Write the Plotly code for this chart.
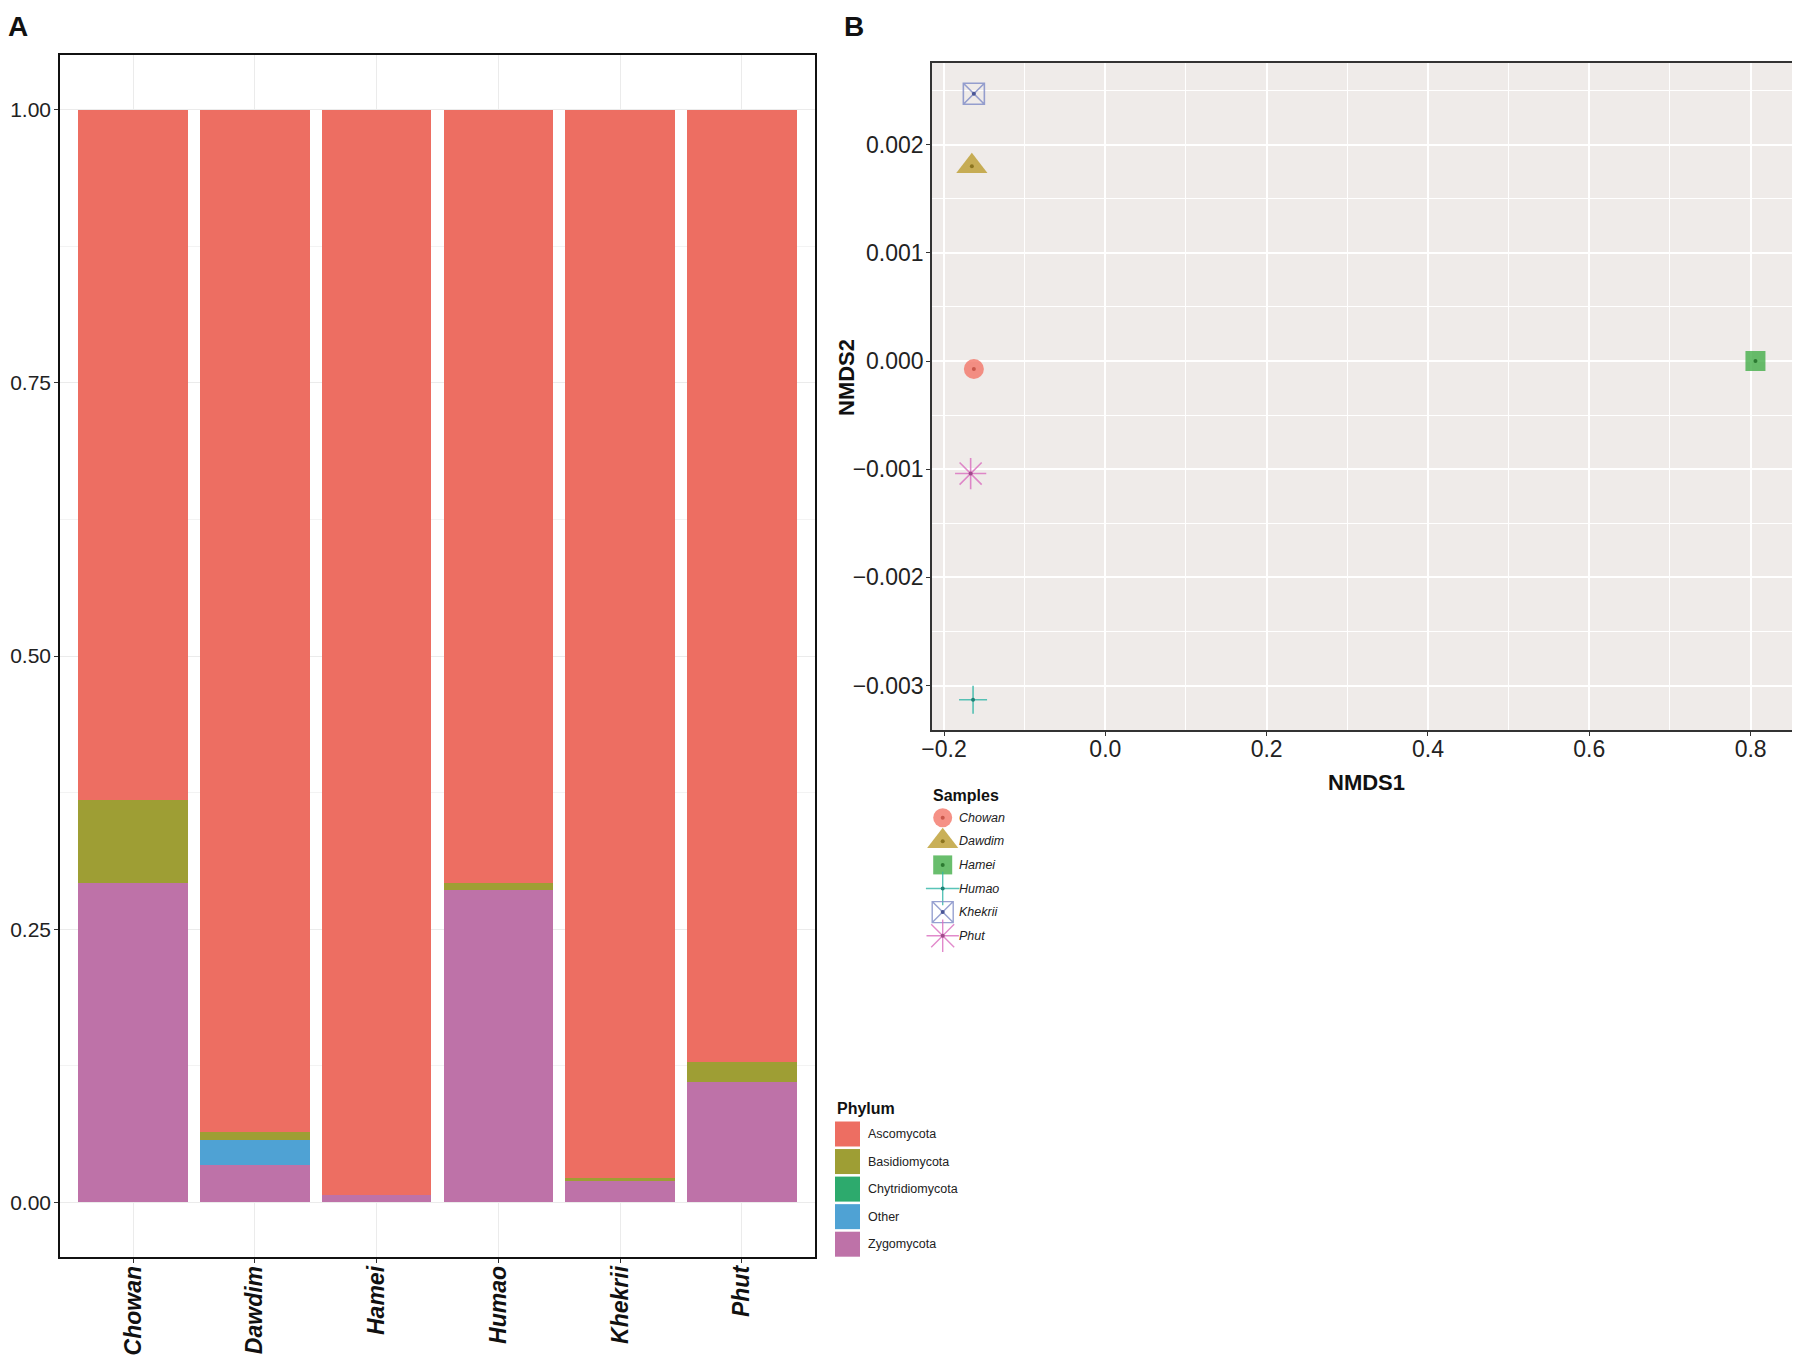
import plotly.graph_objects as go

W, H = 1800, 1362
OFF = 8  # the page body adds an 8px margin around the plot div
FW, FH = W - OFF, H - OFF

# --- panel A: relative abundance by phylum ---
samples = ["Chowan", "Dawdim", "Hamei", "Humao", "Khekrii", "Phut"]
phyla = ["Ascomycota", "Basidiomycota", "Chytridiomycota", "Other", "Zygomycota"]

ascomycota = [0.632, 0.936, 0.993, 0.708, 0.978, 0.872]
basidiomycota = [0.076, 0.007, 0.000, 0.006, 0.002, 0.018]
chytridiomycota = [0.0, 0.0, 0.0, 0.0, 0.0, 0.0]
other = [0.0, 0.023, 0.0, 0.0, 0.0, 0.0]
zygomycota = [0.292, 0.034, 0.007, 0.286, 0.020, 0.110]

phylum_colors = ["#ED6E62", "#9E9E34", "#2DAA6D", "#4FA2D4", "#BE72A8"]
abundance = [ascomycota, basidiomycota, chytridiomycota, other, zygomycota]

# --- panel B: NMDS ordination ---
nmds1 = [-0.163, -0.1655, 0.806, -0.164, -0.163, -0.167]
nmds2 = [-0.000074, 0.0018, 0.0, -0.00313, 0.00247, -0.00104]
symbols = ["circle", "triangle-up", "square", "cross-thin-open", "square-x-open", "asterisk-open"]
sample_colors = ["#F27668", "#BB9C2E", "#43AE48", "#2FB5A6", "#7D89C6", "#D96DBE"]
dot_colors = ["#C9574B", "#8C7520", "#2C7A31", "#1E8276", "#4A5696", "#A04A8A"]
point_sizes = [20, 27, 20, 20, 21, 26]
legend_sizes = [19, 27, 19, 24, 21, 27]

FONT = "Liberation Sans, Arial, sans-serif"


def px_x(v):
    return (v - OFF) / FW


def px_y(v):
    return 1 - (v - OFF) / FH


fig = go.Figure()

# ggplot stacks the first level on top, so add bottom layers first
for name, vals, col in reversed(list(zip(phyla, abundance, phylum_colors))):
    fig.add_trace(go.Bar(
        x=samples, y=vals, name=name, width=0.9,
        marker=dict(color=col, line=dict(width=0)),
        showlegend=False, xaxis="x", yaxis="y",
    ))

for i, s in enumerate(samples):
    line_w = 1.6 if symbols[i].endswith("open") else 0
    fig.add_trace(go.Scatter(
        x=[nmds1[i]], y=[nmds2[i]], mode="markers", name=s, showlegend=False,
        marker=dict(symbol=symbols[i], size=point_sizes[i], color=sample_colors[i],
                    opacity=0.8, line=dict(width=line_w, color=sample_colors[i])),
        xaxis="x2", yaxis="y2",
    ))
    fig.add_trace(go.Scatter(
        x=[nmds1[i]], y=[nmds2[i]], mode="markers", showlegend=False,
        marker=dict(symbol="circle", size=4, color=dot_colors[i]),
        xaxis="x2", yaxis="y2", hoverinfo="skip",
    ))

# samples legend, drawn on a small hidden axis in pixel units
leg_x0, leg_x1, leg_y0, leg_y1 = 920, 1010, 802, 955
for i, s in enumerate(samples):
    ly = 817.7 + i * 23.6
    line_w = 1.4 if symbols[i].endswith("open") else 0
    fig.add_trace(go.Scatter(
        x=[942.7], y=[ly], mode="markers", showlegend=False, hoverinfo="skip",
        marker=dict(symbol=symbols[i], size=legend_sizes[i], color=sample_colors[i],
                    opacity=0.8, line=dict(width=line_w, color=sample_colors[i])),
        xaxis="x3", yaxis="y3", cliponaxis=False,
    ))
    fig.add_trace(go.Scatter(
        x=[942.7], y=[ly], mode="markers", showlegend=False, hoverinfo="skip",
        marker=dict(symbol="circle", size=4, color=dot_colors[i]),
        xaxis="x3", yaxis="y3",
    ))
    fig.add_annotation(
        x=px_x(957), y=px_y(ly), xref="paper", yref="paper", text=s,
        showarrow=False, xanchor="left", yanchor="middle",
        font=dict(family=FONT, size=12.5, color="#222", style="italic"),
    )

# phylum legend
for i, (name, col) in enumerate(zip(phyla, phylum_colors)):
    y0 = 1121.5 + i * 27.55
    fig.add_shape(type="rect", xref="paper", yref="paper",
                  x0=px_x(835), x1=px_x(860), y0=px_y(y0), y1=px_y(y0 + 25),
                  fillcolor=col, line=dict(width=0))
    fig.add_annotation(
        x=px_x(866), y=px_y(y0 + 12.5), xref="paper", yref="paper", text=name,
        showarrow=False, xanchor="left", yanchor="middle",
        font=dict(family=FONT, size=12.5, color="#222"),
    )

# panel B background
fig.add_shape(type="rect", xref="x2 domain", yref="y2 domain", x0=0, x1=1, y0=0, y1=1,
              fillcolor="#EFEBE9", line=dict(width=0), layer="below")

titles = [
    dict(x=6, y=27, text="<b>A</b>", size=28, anchor=("left", "middle"), angle=0),
    dict(x=842, y=27, text="<b>B</b>", size=28, anchor=("left", "middle"), angle=0),
    dict(x=1366, y=783, text="<b>NMDS1</b>", size=22, anchor=("center", "middle"), angle=0),
    dict(x=846, y=378, text="<b>NMDS2</b>", size=22, anchor=("center", "middle"), angle=-90),
    dict(x=931, y=795, text="<b>Samples</b>", size=16, anchor=("left", "middle"), angle=0),
    dict(x=835, y=1108, text="<b>Phylum</b>", size=16, anchor=("left", "middle"), angle=0),
]
for t in titles:
    fig.add_annotation(
        x=px_x(t["x"]), y=px_y(t["y"]), xref="paper", yref="paper", text=t["text"],
        showarrow=False, xanchor=t["anchor"][0], yanchor=t["anchor"][1], textangle=t["angle"],
        font=dict(family=FONT, size=t["size"], color="#111"),
    )

fig.update_layout(
    width=FW, height=FH,
    margin=dict(l=0, r=0, t=0, b=0),
    paper_bgcolor="white", plot_bgcolor="white",
    barmode="stack", bargap=0.1,
    font=dict(family=FONT, color="#222"),
    xaxis=dict(
        domain=[px_x(60), px_x(815)], anchor="y",
        type="category", categoryorder="array", categoryarray=samples,
        range=[-0.6, 5.6], showgrid=True, gridcolor="#EBEBEB", gridwidth=1,
        showline=True, mirror=True, linecolor="#111", linewidth=1.5,
        ticks="outside", ticklen=4, tickcolor="#333", tickwidth=1.2, tickangle=-90,
        ticklabelstandoff=-6,
        tickfont=dict(family=FONT, size=23, color="#111", weight="bold", style="italic"),
        automargin=False, zeroline=False,
    ),
    yaxis=dict(
        domain=[px_y(1257), px_y(55)], anchor="x",
        range=[-0.05, 1.05], tickvals=[0, 0.25, 0.5, 0.75, 1.0],
        ticktext=["0.00", "0.25", "0.50", "0.75", "1.00"],
        showgrid=True, gridcolor="#EBEBEB", gridwidth=1,
        minor=dict(dtick=0.125, tick0=0.125, showgrid=True, gridcolor="#F3F3F3", gridwidth=1),
        showline=True, mirror=True, linecolor="#111", linewidth=1.5,
        ticks="outside", ticklen=4, tickcolor="#333", tickwidth=1.2,
        ticklabelstandoff=-1,
        tickfont=dict(family=FONT, size=21, color="#222"),
        automargin=False, zeroline=False,
    ),
    xaxis2=dict(
        domain=[px_x(932), px_x(1794)], anchor="y2",
        range=[-0.2149, 0.8538], dtick=0.2, tick0=0, tickformat=".1f",
        showgrid=True, gridcolor="white", gridwidth=2,
        minor=dict(dtick=0.1, showgrid=True, gridcolor="white", gridwidth=1),
        showline=True, mirror=True, linecolor="#333", linewidth=1.5,
        ticks="outside", ticklen=4, tickcolor="#333", tickwidth=1.2,
        ticklabelstandoff=-6,
        tickfont=dict(family=FONT, size=23, color="#222"),
        automargin=False, zeroline=False,
    ),
    yaxis2=dict(
        domain=[px_y(730), px_y(63)], anchor="x2",
        range=[-0.003410, 0.002754], dtick=0.001, tick0=0, tickformat=".3f",
        showgrid=True, gridcolor="white", gridwidth=2,
        minor=dict(dtick=0.0005, showgrid=True, gridcolor="white", gridwidth=1),
        showline=True, mirror=True, linecolor="#333", linewidth=1.5,
        ticks="outside", ticklen=4, tickcolor="#333", tickwidth=1.2,
        ticklabelstandoff=-2,
        tickfont=dict(family=FONT, size=23, color="#222"),
        automargin=False, zeroline=False,
    ),
    xaxis3=dict(domain=[px_x(leg_x0), px_x(leg_x1)], range=[leg_x0, leg_x1],
                anchor="y3", visible=False, fixedrange=True),
    yaxis3=dict(domain=[px_y(leg_y1), px_y(leg_y0)], range=[leg_y1, leg_y0],
                anchor="x3", visible=False, fixedrange=True),
)

fig.write_html("out.html")
